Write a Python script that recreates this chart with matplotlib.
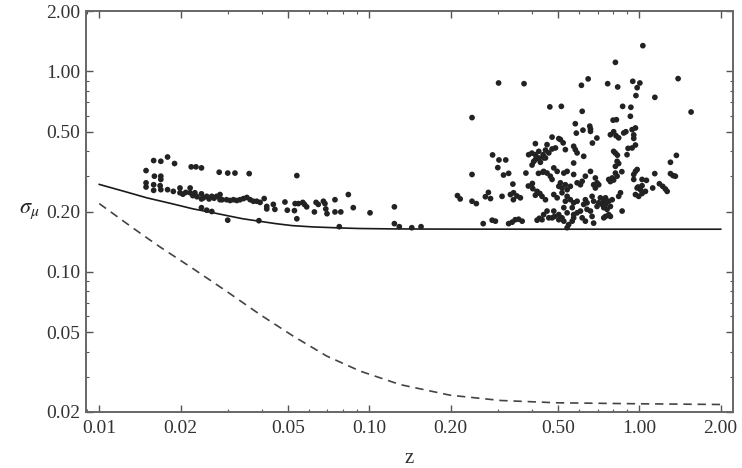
import matplotlib
matplotlib.use('Agg')
import matplotlib.pyplot as plt
from matplotlib.ticker import FixedLocator, FixedFormatter, LogLocator, NullFormatter

plt.rcParams['font.family'] = ['Liberation Serif', 'DejaVu Serif']
plt.rcParams['mathtext.fontset'] = 'stix'

# ---------------- data ----------------
x_ticks = [0.01, 0.02, 0.05, 0.10, 0.20, 0.50, 1.00, 2.00]
x_tick_labels = ['0.01', '0.02', '0.05', '0.10', '0.20', '0.50', '1.00', '2.00']
y_ticks = [0.02, 0.05, 0.10, 0.20, 0.50, 1.00, 2.00]
y_tick_labels = ['0.02', '0.05', '0.10', '0.20', '0.50', '1.00', '2.00']

# solid curve (total floor)
solid_z = [0.010, 0.0125, 0.015, 0.0185, 0.0223, 0.026, 0.0296, 0.034, 0.039, 0.045,
           0.052, 0.062, 0.078, 0.092, 0.12, 0.16, 0.25, 0.5, 1.0, 2.0]
solid_sigma = [0.273, 0.251, 0.234, 0.219, 0.206, 0.198, 0.191, 0.184, 0.179, 0.174,
               0.170, 0.1675, 0.1656, 0.1645, 0.1638, 0.1635, 0.1633, 0.1632, 0.1632, 0.1632]

# dashed curve
dashed_z = [0.010, 0.0132, 0.0152, 0.0168, 0.0223, 0.0296, 0.0394, 0.0524, 0.0696,
            0.0924, 0.130, 0.199, 0.306, 0.496, 1.0, 2.0]
dashed_sigma = [0.219, 0.167, 0.146, 0.133, 0.1035, 0.0800, 0.0612, 0.0477, 0.0380,
                0.0320, 0.0274, 0.02426, 0.02283, 0.02223, 0.02198, 0.0218]

# supernova points: low-z sample
lowz_z = [0.0149, 0.0159, 0.0169, 0.0179, 0.0190, 0.0219, 0.0228, 0.0239, 0.0278, 0.0299,
          0.0318, 0.0359, 0.0160, 0.0169, 0.0169, 0.0149, 0.0149, 0.0159, 0.0159, 0.0168,
          0.0169, 0.0179, 0.0188, 0.0199, 0.0199, 0.0209, 0.0217, 0.0217, 0.0226, 0.0230,
          0.0239, 0.0239, 0.0250, 0.0261, 0.0272, 0.0280, 0.0280, 0.0239, 0.0250, 0.0261,
          0.0299, 0.0390, 0.0296, 0.0305, 0.0314, 0.0323, 0.0332, 0.0342, 0.0352, 0.0362,
          0.0372, 0.0383, 0.0394, 0.0408, 0.0417, 0.0417, 0.0441, 0.0447, 0.0487, 0.0497,
          0.0528, 0.0531, 0.0539, 0.0539, 0.0546, 0.0567, 0.0575, 0.0586, 0.0626, 0.0635,
          0.0647, 0.0676, 0.0685, 0.0690, 0.0697, 0.0746, 0.0746, 0.0774, 0.0784, 0.0836,
          0.0872, 0.1006, 0.1238, 0.1238, 0.1291, 0.1436, 0.1554, 0.0243, 0.0255, 0.0266,
          0.0285, 0.0204, 0.0222]
lowz_sigma = [0.320, 0.359, 0.356, 0.374, 0.347, 0.334, 0.334, 0.330, 0.314, 0.311,
              0.311, 0.309, 0.300, 0.300, 0.289, 0.278, 0.265, 0.272, 0.255, 0.269,
              0.257, 0.257, 0.252, 0.262, 0.248, 0.249, 0.262, 0.248, 0.248, 0.237,
              0.245, 0.231, 0.238, 0.238, 0.238, 0.243, 0.229, 0.209, 0.203, 0.200,
              0.181, 0.180, 0.229, 0.227, 0.229, 0.227, 0.229, 0.232, 0.235, 0.229,
              0.225, 0.225, 0.222, 0.232, 0.212, 0.206, 0.217, 0.205, 0.223, 0.203,
              0.202, 0.219, 0.302, 0.184, 0.219, 0.222, 0.217, 0.211, 0.199, 0.222,
              0.217, 0.225, 0.219, 0.206, 0.195, 0.229, 0.199, 0.168, 0.199, 0.243,
              0.209, 0.197, 0.211, 0.174, 0.168, 0.166, 0.168, 0.234, 0.231, 0.233,
              0.229, 0.244, 0.240]

# supernova points: high-z sample
highz_z = [1.030, 0.815, 0.301, 0.374, 0.646, 0.610, 0.763, 0.831, 0.945, 1.004,
           0.981, 0.971, 1.141, 1.391, 1.554, 0.240, 0.466, 0.514, 0.614, 0.867,
           0.930, 0.926, 0.799, 0.822, 0.579, 0.655, 0.659, 0.659, 0.618, 0.584,
           0.696, 0.781, 0.803, 0.819, 0.838, 0.875, 0.891, 0.940, 0.967, 0.953,
           0.953, 0.967, 0.475, 0.503, 0.510, 0.522, 0.455, 0.449, 0.462, 0.475,
           0.489, 0.440, 0.449, 0.532, 0.571, 0.579, 0.588, 0.622, 0.670, 0.571,
           0.442, 0.455, 0.468, 0.482, 0.496, 0.525, 0.540, 0.510, 0.503, 0.517,
           0.532, 0.540, 0.555, 0.475, 0.571, 0.588, 0.605, 0.614, 0.631, 0.659,
           0.436, 0.449, 0.482, 0.496, 0.517, 0.540, 0.532, 0.555, 0.588, 0.571,
           0.564, 0.631, 0.640, 0.622, 0.668, 0.677, 0.442, 0.455, 0.462, 0.436,
           0.482, 0.503, 0.525, 0.540, 0.503, 0.517, 0.525, 0.571, 0.588, 0.605,
           0.547, 0.540, 0.571, 0.564, 0.640, 0.659, 0.668, 0.614, 0.631, 0.677,
           0.803, 0.815, 0.829, 0.900, 0.908, 0.827, 0.838, 0.815, 0.861, 0.815,
           0.827, 0.770, 0.793, 0.803, 0.781, 0.687, 0.697, 0.677, 0.707, 0.687,
           0.953, 0.967, 0.953, 1.023, 0.851, 0.838, 0.981, 1.009, 0.967, 0.994,
           1.023, 1.053, 0.717, 0.738, 0.749, 0.707, 0.728, 0.749, 0.770, 0.697,
           0.738, 0.759, 0.793, 0.781, 0.863, 0.749, 0.770, 0.781, 0.738, 0.981,
           1.062, 1.023, 0.989, 1.186, 1.220, 1.248, 1.267, 1.120, 1.140, 1.303,
           1.333, 1.359, 1.371, 1.303, 0.212, 0.217, 0.240, 0.249, 0.240, 0.264,
           0.285, 0.293, 0.269, 0.276, 0.281, 0.310, 0.333, 0.342, 0.352, 0.3625,
           0.3415, 0.328, 0.338, 0.347, 0.357, 0.368, 0.418, 0.426, 0.286, 0.302,
           0.320, 0.299, 0.314, 0.328, 0.380, 0.412, 0.389, 0.400, 0.412, 0.424,
           0.412, 0.424, 0.406, 0.4005, 0.430, 0.442, 0.423, 0.439, 0.340, 0.388,
           0.4015, 0.403, 0.418, 0.412, 0.428, 0.475, 0.485, 0.940]
highz_sigma = [1.343, 1.109, 0.875, 0.868, 0.917, 0.852, 0.868, 0.836, 0.892, 0.875,
               0.829, 0.757, 0.742, 0.920, 0.627, 0.588, 0.665, 0.669, 0.632, 0.669,
               0.662, 0.597, 0.571, 0.574, 0.548, 0.533, 0.516, 0.502, 0.509, 0.492,
               0.465, 0.483, 0.500, 0.478, 0.466, 0.493, 0.500, 0.512, 0.522, 0.482,
               0.463, 0.429, 0.470, 0.462, 0.457, 0.440, 0.431, 0.405, 0.392, 0.410,
               0.415, 0.384, 0.370, 0.407, 0.423, 0.407, 0.392, 0.377, 0.439, 0.349,
               0.317, 0.311, 0.300, 0.330, 0.317, 0.311, 0.317, 0.278, 0.267, 0.262,
               0.272, 0.257, 0.267, 0.289, 0.306, 0.278, 0.272, 0.283, 0.300, 0.317,
               0.238, 0.229, 0.243, 0.234, 0.248, 0.238, 0.225, 0.229, 0.225, 0.221,
               0.209, 0.229, 0.221, 0.217, 0.238, 0.225, 0.193, 0.201, 0.186, 0.182,
               0.201, 0.193, 0.209, 0.197, 0.182, 0.186, 0.179, 0.193, 0.197, 0.201,
               0.172, 0.166, 0.186, 0.179, 0.205, 0.201, 0.189, 0.186, 0.179, 0.175,
               0.399, 0.391, 0.382, 0.384, 0.413, 0.356, 0.347, 0.336, 0.316, 0.311,
               0.300, 0.289, 0.294, 0.287, 0.282, 0.294, 0.278, 0.272, 0.272, 0.262,
               0.306, 0.317, 0.289, 0.289, 0.248, 0.238, 0.262, 0.257, 0.243, 0.238,
               0.246, 0.252, 0.234, 0.225, 0.234, 0.221, 0.217, 0.217, 0.225, 0.212,
               0.209, 0.205, 0.229, 0.212, 0.201, 0.189, 0.193, 0.189, 0.186, 0.324,
               0.286, 0.269, 0.265, 0.275, 0.267, 0.259, 0.252, 0.262, 0.309, 0.309,
               0.302, 0.300, 0.381, 0.352, 0.240, 0.231, 0.225, 0.219, 0.306, 0.174,
               0.181, 0.179, 0.237, 0.249, 0.232, 0.238, 0.243, 0.248, 0.239, 0.234,
               0.229, 0.174, 0.177, 0.182, 0.183, 0.179, 0.181, 0.185, 0.383, 0.3615,
               0.3615, 0.331, 0.304, 0.310, 0.311, 0.436, 0.384, 0.391, 0.384, 0.399,
               0.363, 0.370, 0.355, 0.341, 0.352, 0.370, 0.310, 0.314, 0.274, 0.268,
               0.276, 0.260, 0.252, 0.241, 0.246, 0.186, 0.189, 0.415]

# ---------------- figure ----------------
W, H = 742, 468
fig = plt.figure(figsize=(W / 100, H / 100), dpi=100)
ax = fig.add_axes([86 / W, 1 - 412 / H, 647 / W, 401 / H])
ax.set_xscale('log')
ax.set_yscale('log')

ax.plot(solid_z, solid_sigma, color='#1a1a1a', lw=1.2, zorder=2)
ax.plot(dashed_z, dashed_sigma, color='#444444', lw=1.2, dashes=(5, 3.5), zorder=2)
ax.scatter(lowz_z + highz_z, lowz_sigma + highz_sigma, s=17, c='#222222',
           edgecolors='none', zorder=3)

ax.set_xlim(0.00893, 2.2214)
ax.set_ylim(0.02, 2.0)

ax.xaxis.set_major_locator(FixedLocator(x_ticks))
ax.xaxis.set_major_formatter(FixedFormatter(x_tick_labels))
ax.yaxis.set_major_locator(FixedLocator(y_ticks))
ax.yaxis.set_major_formatter(FixedFormatter(y_tick_labels))
ax.xaxis.set_minor_locator(LogLocator(base=10, subs=range(2, 10)))
ax.yaxis.set_minor_locator(LogLocator(base=10, subs=range(2, 10)))
ax.xaxis.set_minor_formatter(NullFormatter())
ax.yaxis.set_minor_formatter(NullFormatter())

ax.tick_params(which='both', direction='in', top=True, right=True, color='#555555',
               labelcolor='#333333', labelsize=14)
ax.tick_params(which='major', length=5, width=1.0)
ax.tick_params(which='minor', length=2.5, width=0.8)
ax.tick_params(axis='x', pad=6)
ax.tick_params(axis='y', pad=4)

for sp in ax.spines.values():
    sp.set_color('#666666')
    sp.set_linewidth(1.4)

ax.set_ylabel(r'$\sigma_\mu$', rotation=0, fontsize=16, color='#222222')
ax.yaxis.set_label_coords(-0.087, 0.5)
ax.yaxis.label.set_va('center')
ax.yaxis.label.set_ha('center')
ax.set_xlabel('z', fontsize=15, color='#333333')
ax.xaxis.set_label_coords(0.5, -0.092)
ax.xaxis.label.set_va('top')

fig.savefig('out.png', dpi=100)
